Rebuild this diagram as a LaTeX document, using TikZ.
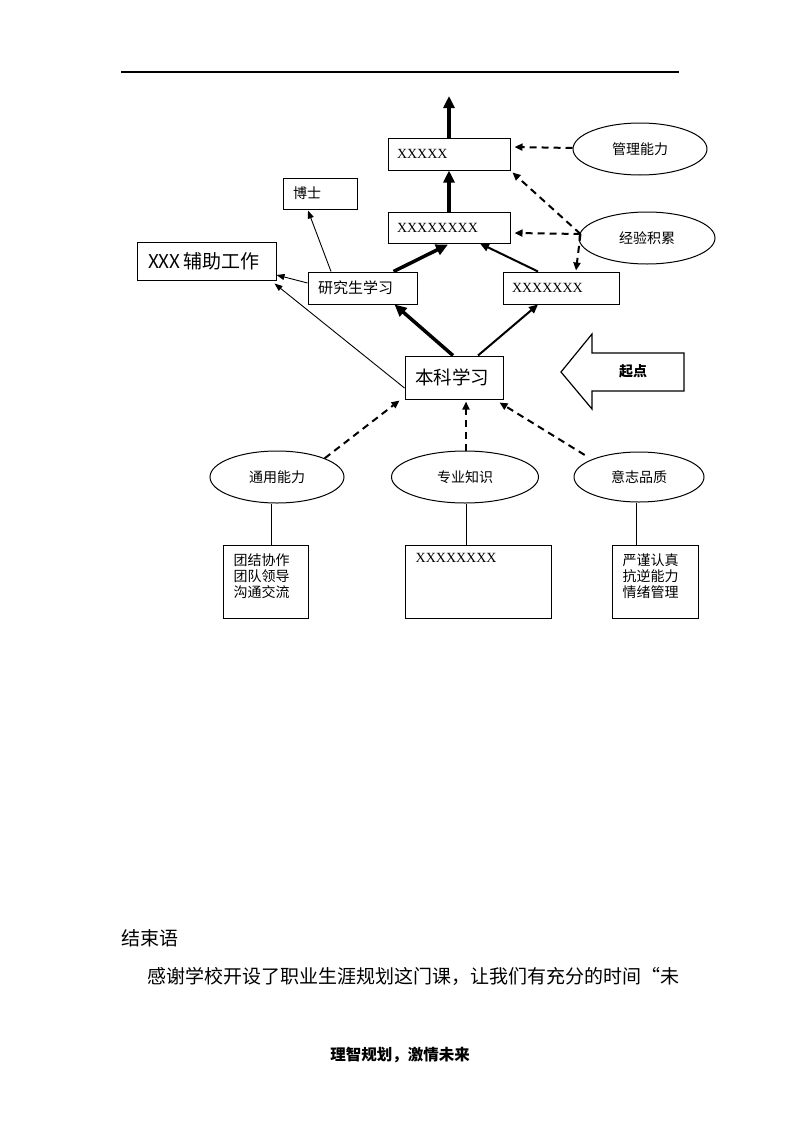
\documentclass[tikz,border=0pt]{standalone}
\usepackage{fontspec}
\setmainfont{Noto Sans CJK SC}
\newfontfamily\timesf{Liberation Serif}
\usetikzlibrary{arrows.meta,shapes.geometric,calc}
\newcommand{\fsz}[1]{\fontsize{#1}{#1}\selectfont}
\tikzset{
  box/.style={draw, line width=1pt, inner ysep=0pt, minimum height=#1, align=left, anchor=center},
  ell/.style={draw, ellipse, line width=1pt, inner sep=0pt},
  thickarr/.style={line width=3.5pt, -{Triangle[length=12pt,width=11pt]}},
  medarr/.style={line width=2pt, -{Triangle[length=9pt,width=8pt]}},
  thinarr/.style={line width=0.9pt, -{Triangle[length=8pt,width=6pt]}},
  dasharr/.style={line width=2pt, dash pattern=on 7pt off 5pt, -{Triangle[length=8pt,width=7pt]}},
  plain/.style={line width=1pt},
}
\begin{document}
\begin{tikzpicture}[x=1pt,y=-1pt]
\useasboundingbox (0,0) rectangle (800,1132);
\fill[white] (0,0) rectangle (800,1132);
% top rule
\draw[line width=1.3pt] (121,72) -- (679,72);
% boxes
\node[box=32pt, text width=104pt, inner xsep=9pt] (b5) at (449,154) {\timesf\fsz{14}XXXXX};
\node[box=31pt, text width=54pt, inner xsep=10pt] (bo) at (320,193.5) {\fsz{14}博士};
\node[box=31pt, text width=104pt, inner xsep=9pt] (b8) at (449,227.5) {\timesf\fsz{14}XXXXXXXX};
\node[box=38pt, text width=117pt, inner xsep=11pt] (aux) at (206.5,261) {\fsz{19}XXX 辅助工作};
\node[box=32pt, text width=89pt, inner xsep=10pt] (yjs) at (362.5,288) {\fsz{15}研究生学习};
\node[box=32pt, text width=98pt, inner xsep=9pt] (b7) at (561,288) {\timesf\fsz{14}XXXXXXX};
\node[box=43pt, text width=78pt, inner xsep=10pt] (bk) at (454,377.5) {\fsz{18.5}本科学习};
% ellipses
\node[ell, minimum width=134pt, minimum height=52pt] (gl) at (640,149) {\fsz{14}管理能力};
\node[ell, minimum width=136pt, minimum height=52pt] (jy) at (647,238) {\fsz{14}经验积累};
\node[ell, minimum width=134pt, minimum height=52pt] (ty) at (277,477) {\fsz{14}通用能力};
\node[ell, minimum width=147pt, minimum height=52pt] (zy) at (465,477) {\fsz{14}专业知识};
\node[ell, minimum width=130pt, minimum height=50pt] (yz) at (639,477) {\fsz{14}意志品质};
% bottom boxes
\node[draw, line width=1pt, minimum width=85pt, minimum height=73pt] (t1) at (265.5,581.5) {};
\node[draw, line width=1pt, minimum width=146pt, minimum height=73pt] (t2) at (478,581.5) {};
\node[draw, line width=1pt, minimum width=86pt, minimum height=73pt] (t3) at (655,581.5) {};
\node[anchor=north west, inner sep=0pt, align=left, font=\fsz{14}] (t1txt) at ($(t1.north west)+(11,9)$) {\fsz{14}团结协作\\[2pt]团队领导\\[2pt]沟通交流};
\node[anchor=north west, inner sep=0pt, align=left] (t2txt) at ($(t2.north west)+(11,9)$) {\timesf\fsz{14}XXXXXXXX};
\node[anchor=north west, inner sep=0pt, align=left, font=\fsz{14}] (t3txt) at ($(t3.north west)+(11,9)$) {\fsz{14}严谨认真\\[2pt]抗逆能力\\[2pt]情绪管理};
% start arrow
\draw[line width=1.2pt, line join=miter] (561,372) -- (592,334) -- (592,353) -- (684,353) -- (684,391) -- (592,391) -- (592,409) -- cycle;
\node[font=\bfseries\fsz{14}] (qd) at (633,371) {起点};
% connectors
\coordinate (topend) at (449,96);
\draw[thickarr] (b5.north) -- (topend);
\draw[thickarr] (b8.north) -- (b5.south);
\draw[thickarr] ($(yjs.north)+(31,0)$) -- ($(b8.south)+(-1,1)$);
\draw[medarr] ($(b7.north)+(-23,0)$) -- ($(b8.south)+(31,0)$);
\draw[thickarr] ($(bk.north)+(-1,0)$) -- ($(yjs.south)+(32,0)$);
\draw[medarr] ($(bk.north)+(24,0)$) -- ($(b7.south)+(-23,0)$);
\draw[thinarr] ($(yjs.north)+(-31.5,0)$) -- ($(bo.south)+(-12,1)$);
\draw[thinarr] ($(yjs.west)+(0,-5)$) -- ($(aux.east)+(0,14)$);
\draw[thinarr] ($(bk.west)+(0,10.5)$) -- ($(aux.south east)+(-2,3)$);
% dashed
\draw[dasharr] ($(gl.west)+(0,-1)$) -- ($(b5.east)+(4,-7)$);
\coordinate (jyw) at ($(jy.west)+(2,-4)$);
\draw[dasharr] (jyw) -- ($(b8.east)+(4,5.5)$);
\draw[dasharr] (jyw) -- ($(b5.south east)+(2,2)$);
\draw[dasharr] (jyw) -- ($(b7.north)+(15,-1)$);
\draw[dasharr] (ty.north east) -- ($(bk.south west)+(-5,1)$);
\draw[dasharr] ($(zy.north)+(1,0)$) -- ($(bk.south)+(12,2)$);
\draw[dasharr] ($(yz.north west)+(-8,-4)$) -- ($(bk.south east)+(-4,3)$);
% plain lines
\draw[plain] ($(ty.south)+(-6,0)$) -- ($(t1.north)+(5.5,0)$);
\draw[plain] ($(zy.south)+(1,0)$) -- ($(t2.north)+(-12,0)$);
\draw[plain] ($(yz.south)+(-3,0)$) -- ($(t3.north)+(-19,0)$);
% text
\node[anchor=west, inner sep=0pt] (end) at (121,938) {\fsz{19}结束语};
\node[anchor=west, inner sep=0pt] (para) at (147,976) {\fsz{19}感谢学校开设了职业生涯规划这门课，让我们有充分的时间“未};
\node[inner sep=0pt] (foot) at (400,1055) {\bfseries\fsz{15.5}理智规划，激情未来};
\end{tikzpicture}
\end{document}
